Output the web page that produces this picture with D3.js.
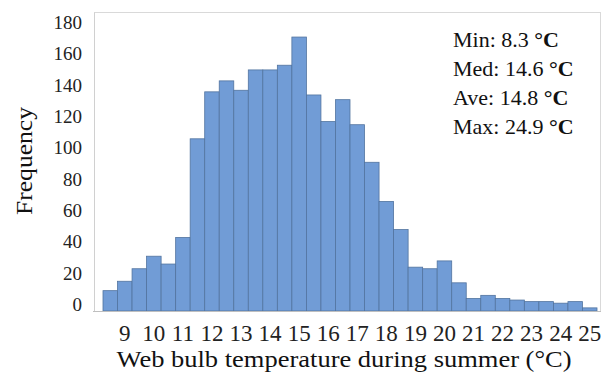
<!DOCTYPE html>
<html>
<head>
<meta charset="utf-8">
<script src="https://cdn.jsdelivr.net/npm/d3@7"></script>
<style>
    body { margin: 0; background: #fff; }
    svg { display: block; font-family: "Liberation Serif", "Times New Roman", serif; }
</style>
</head>
<body>
<svg id="chart" width="609" height="377"></svg>
<script>
// bin centres (0.5 °C wide bins)
var bins = [8.5, 9, 9.5, 10, 10.5, 11, 11.5, 12, 12.5, 13, 13.5, 14, 14.5, 15, 15.5, 16, 16.5,
    17, 17.5, 18, 18.5, 19, 19.5, 20, 20.5, 21, 21.5, 22, 22.5, 23, 23.5, 24, 24.5, 25];
var counts = [13, 19, 27, 35, 30, 47, 110, 140, 147, 141, 154, 154, 157, 175, 138, 121, 135,
    119, 95, 70, 52, 28, 27, 32, 18, 8, 10, 8, 7, 6, 6, 5, 6, 2];
var yTicks = [0, 20, 40, 60, 80, 100, 120, 140, 160, 180];
var xTickLabels = [9, 10, 11, 12, 13, 14, 15, 16, 17, 18, 19, 20, 21, 22, 23, 24, 25];
var stats = [
    { name: "Min", value: "8.3" },
    { name: "Med", value: "14.6" },
    { name: "Ave", value: "14.8" },
    { name: "Max", value: "24.9" }
];

var svg = d3.select("#chart");
var margin = { left: 94, right: 8, top: 12, bottom: 66 };
var width = 609 - margin.left - margin.right;
var height = 377 - margin.top - margin.bottom;

var g = svg.append("g")
    .attr("transform", "translate(" + margin.left + "," + margin.top + ")");

var x = d3.scaleBand()
    .domain(bins)
    .range([9, width - 4])
    .paddingInner(0)
    .paddingOuter(0);

var y = d3.scaleLinear()
    .domain([0, 191])
    .range([height, 0]);

// plot area frame
g.append("rect")
    .attr("x", 0.5)
    .attr("y", 0.5)
    .attr("width", width - 1)
    .attr("height", height)
    .attr("fill", "none")
    .attr("stroke", "#d9d9d9")
    .attr("stroke-width", 1);

// bars
g.selectAll(".bar")
    .data(counts)
    .enter()
    .append("rect")
    .attr("class", "bar")
    .attr("x", (d, i) => x(bins[i]))
    .attr("y", d => y(d))
    .attr("width", x.bandwidth())
    .attr("height", d => height - y(d))
    .attr("fill", "#719cd6")
    .attr("stroke", "#52749f")
    .attr("stroke-width", 0.8);

// y axis
var yAxis = g.append("g")
    .call(d3.axisLeft(y).tickValues(yTicks).tickSize(0).tickPadding(12));
yAxis.select(".domain").attr("stroke", "#d0d0d0");
yAxis.selectAll("text")
    .attr("font-family", "Liberation Serif, serif")
    .attr("font-size", 19)
    .attr("fill", "#222")
    .attr("dy", "-0.03em");

// x axis
var xAxis = g.append("g")
    .attr("transform", "translate(0," + height + ")")
    .call(d3.axisBottom(x)
        .tickValues(xTickLabels)
        .tickFormat(d3.format("d"))
        .tickSize(0)
        .tickPadding(14));
xAxis.select(".domain").attr("stroke", "#bfbfbf").attr("d", "M-1,0.5H" + width);
xAxis.selectAll("text")
    .attr("font-family", "Liberation Serif, serif")
    .attr("font-size", 23)
    .attr("fill", "#222");

// axis titles
svg.append("text")
    .attr("x", 344)
    .attr("y", 367)
    .attr("text-anchor", "middle")
    .attr("font-size", 24)
    .attr("fill", "#111")
    .attr("textLength", 455)
    .attr("lengthAdjust", "spacingAndGlyphs")
    .text("Web bulb temperature during summer (°C)");

svg.append("text")
    .attr("transform", "translate(32,161) rotate(-90)")
    .attr("text-anchor", "middle")
    .attr("font-size", 23)
    .attr("fill", "#111")
    .attr("textLength", 108)
    .attr("lengthAdjust", "spacingAndGlyphs")
    .text("Frequency");

// summary statistics
var statText = svg.append("g")
    .selectAll("text")
    .data(stats)
    .enter()
    .append("text")
    .attr("x", 453)
    .attr("y", (d, i) => 47 + i * 29)
    .attr("font-size", 22)
    .attr("fill", "#111");
statText.append("tspan").text(d => d.name + ": " + d.value + " ");
statText.append("tspan").attr("font-weight", "bold").text("°C");
</script>
</body>
</html>
